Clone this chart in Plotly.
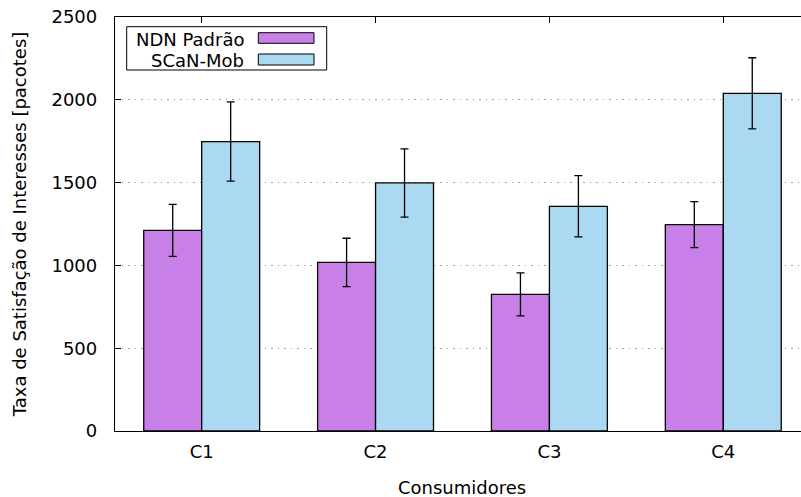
import plotly.graph_objects as go

categories = ["C1", "C2", "C3", "C4"]
ndn_values = [1212, 1018, 825, 1246]
ndn_errors = [157, 146, 130, 139]
scan_values = [1748, 1498, 1357, 2039]
scan_errors = [239, 206, 185, 215]
series_names = ["NDN Padrão", "SCaN-Mob"]
y_ticks = [0, 500, 1000, 1500, 2000, 2500]

PURPLE = "#C880E8"
BLUE = "#ABD9F2"
FONT = "DejaVu Sans"
FS = 18

W, H = 801, 497
L, R, T, B = 115, 0, 17, 66
PW, PH = W - L - R, H - T - B

def px(x):
    return (x - L) / PW

def py(y):
    return (H - B - y) / PH

fig = go.Figure()
for name, vals, errs, col in [
    (series_names[0], ndn_values, ndn_errors, PURPLE),
    (series_names[1], scan_values, scan_errors, BLUE),
]:
    fig.add_trace(go.Bar(
        x=categories, y=vals, name=name,
        marker=dict(color=col, line=dict(color="black", width=1.3)),
        error_y=dict(type="data", array=errs, visible=True,
                     color="black", thickness=1.3, width=4),
        showlegend=False,
    ))

# custom gnuplot-style legend (text left, sample right)
shapes = [dict(type="rect", xref="paper", yref="paper",
               x0=px(126.7), x1=px(326.7), y0=py(70), y1=py(26.7),
               line=dict(color="black", width=1), fillcolor="white", layer="above")]
annotations = []
rows = [(series_names[0], PURPLE, 32.7, 43.3, 39), (series_names[1], BLUE, 54, 65, 60)]
for name, col, ya, yb, yc in rows:
    shapes.append(dict(type="rect", xref="paper", yref="paper",
                       x0=px(258.3), x1=px(314), y0=py(yb), y1=py(ya),
                       line=dict(color="black", width=1), fillcolor=col, layer="above"))
    annotations.append(dict(text=name, xref="paper", yref="paper",
                            x=px(246), y=py(yc), xanchor="right", yanchor="middle",
                            showarrow=False, font=dict(family=FONT, size=FS, color="black")))

annotations.append(dict(text="Consumidores", xref="paper", yref="paper",
                        x=px(462), y=py(487), xanchor="center", yanchor="middle",
                        showarrow=False, font=dict(family=FONT, size=FS, color="black")))

fig.update_layout(
    width=W, height=H,
    margin=dict(l=L, r=R, t=T, b=B, pad=0),
    paper_bgcolor="white", plot_bgcolor="white",
    barmode="group", bargap=1/3, bargroupgap=0,
    font=dict(family=FONT, size=FS, color="black"),
    shapes=shapes, annotations=annotations,
    xaxis=dict(
        range=[-0.4986, 3.447], showgrid=False, zeroline=False,
        showline=True, linecolor="black", linewidth=1.3, mirror="ticks",
        ticks="inside", ticklen=6, tickcolor="black", tickwidth=1,
        ticklabelstandoff=4,
        tickfont=dict(family=FONT, size=FS, color="black"),
    ),
    yaxis=dict(
        range=[0, 2500], tickvals=y_ticks, zeroline=False,
        showgrid=True, gridcolor="#A0A0A0", gridwidth=1, griddash="1.5px,5px",
        showline=True, linecolor="black", linewidth=1.3,
        ticks="inside", ticklen=6, tickcolor="black", tickwidth=1,
        ticklabelstandoff=13,
        tickfont=dict(family=FONT, size=FS, color="black"),
        title=dict(text="Taxa de Satisfação de Interesses [pacotes]",
                   font=dict(family=FONT, size=FS, color="black"), standoff=20),
    ),
)

fig.write_html("out.html", config={"displayModeBar": False},
               post_script="document.body.style.margin='0';document.body.style.padding='0';")
